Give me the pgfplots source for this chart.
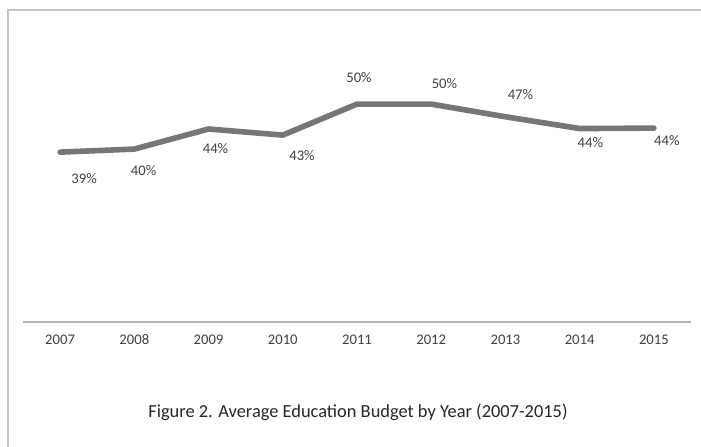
\documentclass[border=0pt]{standalone}
\usepackage{pgfplots}
\pgfplotsset{compat=1.18}
\usepackage{pgfplotstable}
\usepackage{fontspec}
\setmainfont{Carlito}
\definecolor{linegray}{RGB}{118,118,118}
\definecolor{bordergray}{RGB}{196,196,196}
\definecolor{axisgray}{RGB}{180,180,180}
\definecolor{txt}{RGB}{64,64,64}
\pgfplotstableread{
x y lab dx dy
0 38.9 39 24 26
1 39.6 40 9.25 21
2 44.2 44 7 19.5
3 42.8 43 19.25 20.5
4 49.9 50 2 -26.5
5 49.9 50 13.25 -21
6 47.0 47 15 -22.5
7 44.3 44 10.75 14.5
8 44.4 44 13 12
}\budget
\begin{document}
\begin{tikzpicture}
\useasboundingbox (-17.25pt,-93.75pt) rectangle (508.5pt,241.5pt);
\begin{scope}
\clip (-17.25pt,-93.75pt) rectangle (508.5pt,241.5pt);
\draw[bordergray, line width=1.1pt] (-11.25pt,-200pt) rectangle (700pt,234pt);
\end{scope}
\begin{axis}[
  at={(0,0)}, anchor=south west,
  scale only axis,
  width=501pt, height=196.5pt,
  xmin=-0.5, xmax=8.5, ymin=0, ymax=60,
  axis x line=bottom, axis y line=none,
  x axis line style={-, axisgray, line width=0.9pt},
  xtick={0,...,8},
  xticklabels={2007,2008,2009,2010,2011,2012,2013,2014,2015},
  major tick length=0pt,
  xticklabel style={anchor=center, yshift=-13.5pt, font=\fontsize{11}{13}\selectfont, text=txt},
  clip=false,
  point meta=explicit symbolic,
  visualization depends on={\thisrow{dx}\as\dx},
  visualization depends on={\thisrow{dy}\as\dy},
  nodes near coords={\pgfplotspointmeta\%},
  every node near coord/.append style={anchor=center, xshift=0.75*\dx pt, yshift=-0.75*\dy pt, font=\fontsize{11}{13}\selectfont, text=txt},
]
\addplot[linegray, line width=4.2pt, line cap=round, line join=round, mark=none] table[x=x, y=y, meta=lab] {\budget};
\end{axis}
\node[font=\fontsize{13.8}{16}\selectfont, text=black!85] at (251.25pt,-67.5pt) {Figure 2. Average Education Budget by Year (2007-2015)};
\end{tikzpicture}
\end{document}
